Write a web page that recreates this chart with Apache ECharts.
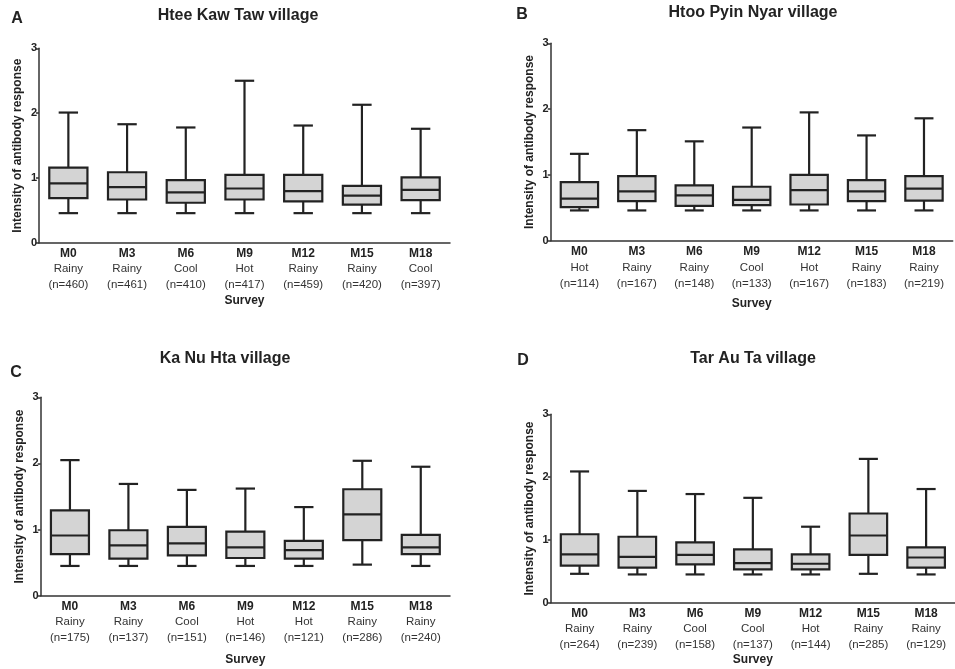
<!DOCTYPE html>
<html><head><meta charset="utf-8">
<script src="https://cdn.jsdelivr.net/npm/echarts@6/dist/echarts.min.js"></script>
<style>html,body{margin:0;padding:0;background:#fff}#c{width:955px;height:669px}</style>
</head><body><div id="c"></div>
<script>
// ---- data ----
const months = ['M0','M3','M6','M9','M12','M15','M18'];
const yTicks = [0, 1, 2, 3];

// each row: [min, Q1, median, Q3, max]
const hteeBox = [[0.46,0.69,0.92,1.16,2.01],[0.46,0.67,0.86,1.09,1.83],[0.46,0.62,0.78,0.97,1.78],[0.46,0.67,0.84,1.05,2.50],[0.46,0.64,0.80,1.05,1.81],[0.46,0.59,0.73,0.88,2.13],[0.46,0.66,0.82,1.01,1.76]];
const hteeSeason = ['Rainy','Rainy','Cool','Hot','Rainy','Rainy','Cool'];
const hteeN = [460,461,410,417,459,420,397];

const htooBox = [[0.46,0.51,0.64,0.89,1.32],[0.46,0.60,0.75,0.98,1.68],[0.46,0.53,0.69,0.84,1.51],[0.46,0.54,0.62,0.82,1.72],[0.46,0.55,0.77,1.00,1.95],[0.46,0.60,0.75,0.92,1.60],[0.46,0.61,0.79,0.98,1.86]];
const htooSeason = ['Hot','Rainy','Rainy','Cool','Hot','Rainy','Rainy'];
const htooN = [114,167,148,133,167,183,219];

const kanuBox = [[0.45,0.63,0.91,1.29,2.05],[0.45,0.56,0.76,0.99,1.69],[0.45,0.61,0.79,1.04,1.60],[0.45,0.57,0.73,0.97,1.62],[0.45,0.56,0.69,0.83,1.34],[0.47,0.84,1.23,1.61,2.04],[0.45,0.63,0.73,0.92,1.95]];
const kanuSeason = ['Rainy','Rainy','Cool','Hot','Hot','Rainy','Rainy'];
const kanuN = [175,137,151,146,121,286,240];

const tarBox = [[0.46,0.59,0.77,1.09,2.09],[0.45,0.56,0.73,1.05,1.78],[0.45,0.61,0.76,0.96,1.73],[0.45,0.53,0.63,0.85,1.67],[0.45,0.53,0.62,0.77,1.21],[0.46,0.76,1.07,1.42,2.29],[0.45,0.56,0.72,0.88,1.81]];
const tarSeason = ['Rainy','Rainy','Cool','Cool','Hot','Rainy','Rainy'];
const tarN = [264,239,158,137,144,285,129];

const panelTitles = ['Htee Kaw Taw village','Htoo Pyin Nyar village','Ka Nu Hta village','Tar Au Ta village'];
const panelLetters = ['A','B','C','D'];

// ---- chart ----
const FONT = '"Liberation Sans", Arial, sans-serif';
const panels = [
  {box: hteeBox, season: hteeSeason, n: hteeN, grid:{left:39, top:48.3, width:411, height:194.7}, lh:15.5, xGap:52, title:[238,16], letter:[17,19]},
  {box: htooBox, season: htooSeason, n: htooN, grid:{left:550.7, top:43.3, width:402, height:197.4}, lh:16, xGap:57, title:[753,13], letter:[522,15]},
  {box: kanuBox, season: kanuSeason, n: kanuN, grid:{left:40.7, top:397.3, width:409.3, height:198.4}, lh:15.5, xGap:58, title:[225,359], letter:[16,373]},
  {box: tarBox, season: tarSeason, n: tarN, grid:{left:550.7, top:414.3, width:405, height:188.4}, lh:15.5, xGap:51, title:[753,359], letter:[523,361]}
];

const grids = [], xAxes = [], yAxes = [], series = [], graphics = [];
panels.forEach((p, i) => {
  grids.push(Object.assign({containLabel:false}, p.grid));
  xAxes.push({
    type:'category', gridIndex:i, data: months, boundaryGap:true,
    name:'Survey', nameLocation:'middle', nameGap:p.xGap,
    nameTextStyle:{fontFamily:FONT, fontWeight:'bold', fontSize:12, color:'#222'},
    axisLine:{lineStyle:{color:'#333', width:1.5}},
    axisTick:{show:false},
    axisLabel:{margin:3, interval:0, fontFamily:FONT,
      formatter:(v, idx) => '{b|' + v + '}\n{r|' + p.season[idx] + '}\n{r|(n=' + p.n[idx] + ')}',
      rich:{
        b:{fontFamily:FONT, fontWeight:'bold', fontSize:12, color:'#222', lineHeight:p.lh},
        r:{fontFamily:FONT, fontSize:11.5, color:'#333', lineHeight:p.lh}
      }}
  });
  yAxes.push({
    type:'value', gridIndex:i, min:yTicks[0], max:yTicks[yTicks.length-1], interval:1,
    name:'Intensity of antibody response', nameLocation:'middle', nameGap:15,
    nameTextStyle:{fontFamily:FONT, fontWeight:'bold', fontSize:12, color:'#222'},
    axisLine:{show:true, lineStyle:{color:'#333', width:1.5}},
    axisTick:{show:true, inside:false, length:3, lineStyle:{color:'#333', width:1.5}},
    axisLabel:{margin:2, fontFamily:FONT, fontWeight:'bold', fontSize:11, color:'#222'},
    splitLine:{show:false}
  });
  series.push({
    type:'custom', xAxisIndex:i, yAxisIndex:i,
    data: p.box.map((r, k) => [k].concat(r)),
    encode:{x:0, y:[1,2,3,4,5]},
    renderItem:(params, api) => {
      const k = api.value(0);
      const band = api.size([1, 0])[0];
      const bw = band * 0.65, cw = band * 0.33;
      const pMin = api.coord([k, api.value(1)]);
      const pQ1 = api.coord([k, api.value(2)]);
      const pMed = api.coord([k, api.value(3)]);
      const pQ3 = api.coord([k, api.value(4)]);
      const pMax = api.coord([k, api.value(5)]);
      const x = pMin[0];
      const ls = {stroke:'#222', lineWidth:2.2, fill:null};
      return {type:'group', children:[
        {type:'line', shape:{x1:x, y1:pMax[1], x2:x, y2:pQ3[1]}, style:ls},
        {type:'line', shape:{x1:x, y1:pQ1[1], x2:x, y2:pMin[1]}, style:ls},
        {type:'line', shape:{x1:x-cw/2, y1:pMax[1], x2:x+cw/2, y2:pMax[1]}, style:ls},
        {type:'line', shape:{x1:x-cw/2, y1:pMin[1], x2:x+cw/2, y2:pMin[1]}, style:ls},
        {type:'rect', shape:{x:x-bw/2, y:pQ3[1], width:bw, height:pQ1[1]-pQ3[1]}, style:{stroke:'#222', lineWidth:2.2, fill:'#d4d4d4'}},
        {type:'line', shape:{x1:x-bw/2, y1:pMed[1], x2:x+bw/2, y2:pMed[1]}, style:ls}
      ]};
    }
  });
  graphics.push({type:'text', x:p.title[0], y:p.title[1], style:{text:panelTitles[i], font:'bold 16px ' + FONT, fill:'#222', textAlign:'center', textVerticalAlign:'middle'}});
  graphics.push({type:'text', x:p.letter[0], y:p.letter[1], style:{text:panelLetters[i], font:'bold 16px ' + FONT, fill:'#222', textAlign:'center', textVerticalAlign:'middle'}});
});

const chart = echarts.init(document.getElementById('c'), null, {renderer:'canvas'});
chart.setOption({
  backgroundColor:'#fff', animation:false,
  grid: grids, xAxis: xAxes, yAxis: yAxes, series: series, graphic: graphics
});
</script></body></html>
